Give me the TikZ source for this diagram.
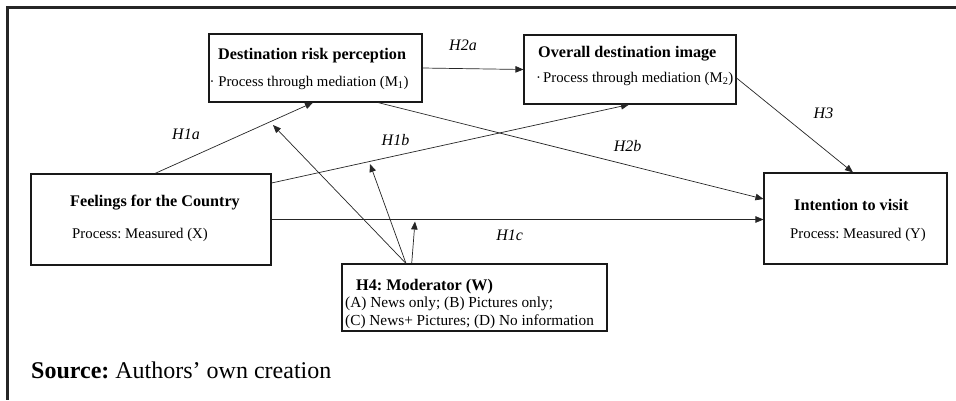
\documentclass[tikz,border=0pt]{standalone}
\usepackage{fontspec}
\setmainfont{Liberation Serif}
\usetikzlibrary{arrows.meta}
\frenchspacing
\begin{document}
\begin{tikzpicture}[x=1pt,y=-1pt,
  box/.style={draw=black!90,line width=1.1pt,inner sep=0pt,rectangle},
  arr/.style={draw=black!85,line width=0.7pt,-{Triangle[length=8pt,width=6.5pt]}},
  tx/.style={inner sep=0pt,anchor=base west,font=\fontsize{14.8}{16}\selectfont},
  tb/.style={inner sep=0pt,anchor=base west,font=\fontsize{16.2}{18}\selectfont\bfseries},
  tw/.style={inner sep=0pt,anchor=base west,font=\fontsize{15.3}{17}\selectfont},
  lab/.style={inner sep=0pt,anchor=base,font=\fontsize{16}{18}\selectfont\itshape},
  frame/.style={draw=black!85,line width=3pt}]
\useasboundingbox (0,0) rectangle (956,400);
\fill[white] (0,0) rectangle (956,400);
% outer frame
\coordinate (fc) at (7.5,7.5);
\coordinate (fr) at (956,7.5);
\coordinate (fb) at (7.5,400);
\draw[frame] (fr) -- (fc) -- (fb);
% boxes
\node[box,minimum width=213pt,minimum height=68pt] (M1) at (315.5,68) {};
\node[box,minimum width=212pt,minimum height=69pt] (M2) at (630,69.5) {};
\node[box,minimum width=240pt,minimum height=91pt] (X) at (151,219.5) {};
\node[box,minimum width=183pt,minimum height=91pt] (Y) at (855.5,218.5) {};
\node[box,minimum width=265pt,minimum height=67pt] (W) at (474.5,297.5) {};
% box texts
\node[tb] (m1t) at (218,59) {Destination risk perception};
\node[tx] (m1s) at (209.5,86) {· Process through mediation (M\textsubscript{1})};
\node[tb] (m2t) at (538,57.3) {Overall destination image};
\node[tx] (m2s) at (536,82.3) {·\kern2pt Process through mediation (M\textsubscript{2})};
\node[tb] (xt) at (70,206) {Feelings for the Country};
\node[tx] (xs) at (72,238.7) {Process: Measured (X)};
\node[tb] (yt) at (794,210) {Intention to visit};
\node[tx] (ys) at (790,238.7) {Process: Measured (Y)};
\node[tb] (wt) at (356,290.3) {H4: Moderator (W)};
\node[tw] (w1) at (345,307) {(A) News only; (B) Pictures only;};
\node[tw] (w2) at (345,325) {(C) News+ Pictures; (D) No information};
\node[inner sep=0pt,anchor=base west,font=\fontsize{24}{28}\selectfont] (src) at (31,378) {\textbf{Source:} Authors’ own creation};
% connectors
\draw[arr] ([xshift=4pt]X.north) -- ([xshift=-2.5pt]M1.south);
\draw[arr] ([yshift=36.5pt]X.east) -- ([xshift=-1pt]M2.south);
\draw[arr] (X.east) -- (X.east -| Y.west);
\draw[arr] (M1.east) -- (M2.west);
\draw[arr] ([xshift=62.5pt]M1.south) -- ([yshift=19.5pt]Y.west);
\draw[arr] ([yshift=-8.5pt]M2.east) -- ([xshift=-2.5pt]Y.north);
% moderator arrows
\coordinate (h1) at (273,125);
\coordinate (h2) at (370,164);
\coordinate (h3) at (415,221.5);
\draw[arr] ([xshift=-68.5pt]W.north) -- (h1);
\draw[arr] ([xshift=-68.5pt]W.north) -- (h2);
\draw[arr] ([xshift=-62.8pt]W.north) -- (h3);
% labels
\node[lab] (l1a) at (186,139) {H1a};
\node[lab] (l1b) at (395.5,145.7) {H1b};
\node[lab] (l2a) at (463,50.7) {H2a};
\node[lab] (l2b) at (627.7,151.7) {H2b};
\node[lab] (l3) at (823.5,118.3) {H3};
\node[lab] (l1c) at (509.7,240) {H1c};
\end{tikzpicture}
\end{document}
